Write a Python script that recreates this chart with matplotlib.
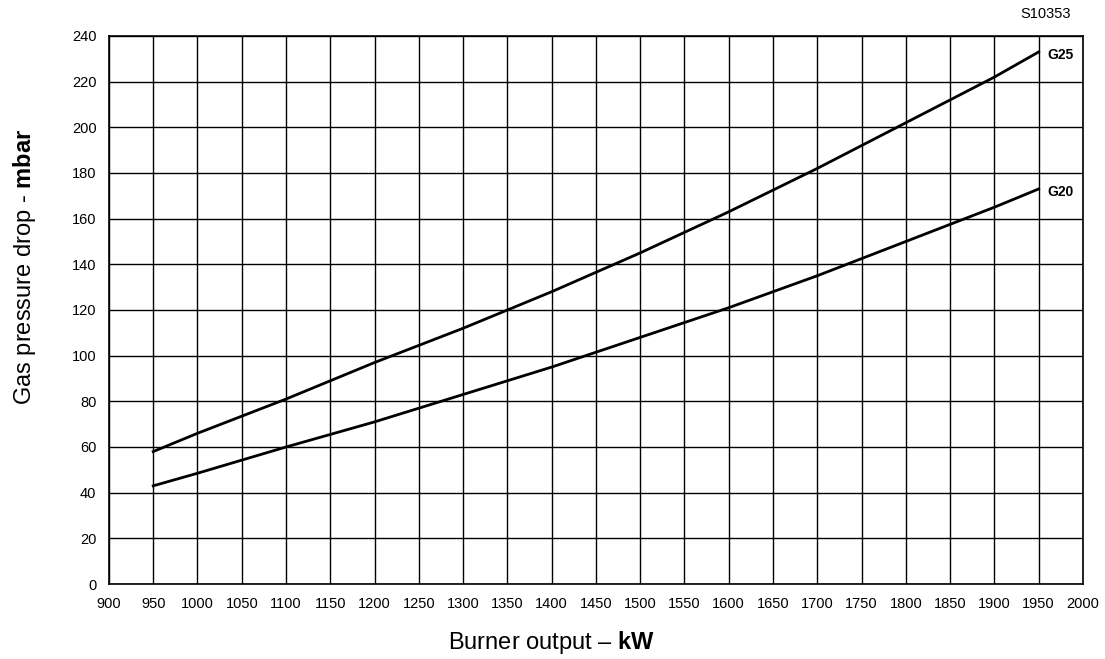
import numpy as np
import matplotlib as mpl
import matplotlib.pyplot as plt

mpl.use('Agg')

# burner output (kW) and pressure drop (mbar)
output_kw = [950, 1000, 1100, 1200, 1300, 1400, 1500, 1600, 1700, 1800, 1900, 1950]
g25_mbar = [58, 66, 81, 97, 112, 128, 145, 163, 182, 202, 222, 233]
g20_mbar = [43, 48.5, 60, 71, 83, 95, 108, 121, 135, 150, 165, 173]

x_ticks = list(range(900, 2001, 50))
y_ticks = list(range(0, 241, 20))

plt.rcParams['font.family'] = ['Liberation Sans', 'DejaVu Sans']
plt.rcParams['mathtext.fontset'] = 'custom'
plt.rcParams['mathtext.rm'] = 'Liberation Sans'
plt.rcParams['mathtext.bf'] = 'Liberation Sans:bold'


def plot_pressure_drop():
    fig = plt.figure(figsize=(11.05, 6.59), dpi=100)
    ax = fig.add_axes([0.0986, 0.1138, 0.8814, 0.8316])

    ax.set_xlim(900, 2000)
    ax.set_ylim(0, 240)
    ax.set_xticks(x_ticks)
    ax.set_yticks(y_ticks)
    ax.tick_params(length=0, labelsize=10.5)
    ax.tick_params(axis='x', pad=9)
    ax.tick_params(axis='y', pad=9)
    ax.grid(True, color='black', linewidth=1.0)
    ax.set_axisbelow(True)
    for sp in ax.spines.values():
        sp.set_linewidth(1.2)

    ax.plot(output_kw, g25_mbar, color='black', linewidth=2.0)
    ax.plot(output_kw, g20_mbar, color='black', linewidth=2.0)

    ax.text(1960, g25_mbar[-1] - 1.5, 'G25', fontsize=10, fontweight='bold', va='center', ha='left')
    ax.text(1960, g20_mbar[-1] - 1.5, 'G20', fontsize=10, fontweight='bold', va='center', ha='left')

    # axis titles placed like in the original drawing (a bit off-centre)
    fig.text(551 / 1105, 1 - 642 / 659, r'Burner output – $\mathbf{kW}$', fontsize=17,
             ha='center', va='center')
    fig.text(25 / 1105, 1 - 267 / 659, r'Gas pressure drop - $\mathbf{mbar}$', fontsize=17,
             ha='center', va='center', rotation=90)

    fig.text(1071 / 1105, 1 - 14 / 659, 'S10353', fontsize=10.5, ha='right', va='center')

    fig.savefig('out.png', dpi=100)


plot_pressure_drop()
